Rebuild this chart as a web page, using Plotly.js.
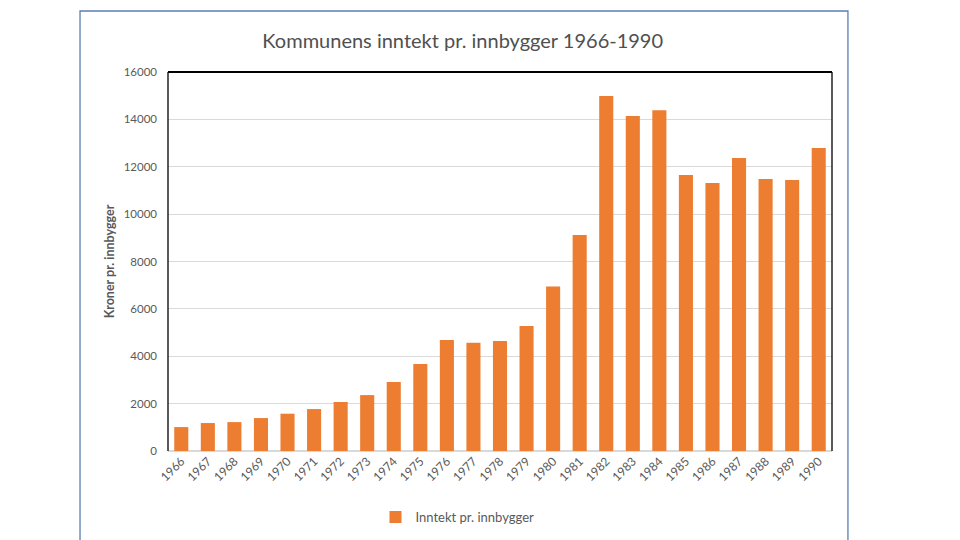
<!DOCTYPE html>
<html>
<head>
<meta charset="utf-8">
<script src="https://cdn.plot.ly/plotly-3.0.1.min.js"></script>
<style>html,body{margin:0;padding:0;background:#fff;}#chart{width:960px;height:540px;}</style>
</head>
<body>
<div id="chart"></div>
<script>
const years = ['1966','1967','1968','1969','1970','1971','1972','1973','1974','1975','1976','1977','1978','1979','1980','1981','1982','1983','1984','1985','1986','1987','1988','1989','1990'];
const inntekt = [1010,1180,1220,1390,1575,1770,2070,2360,2910,3670,4690,4570,4640,5280,6940,9120,14990,14140,14390,11650,11310,12370,11480,11440,12790];
const seriesName = 'Inntekt pr. innbygger';
const chartTitle = 'Kommunens inntekt pr. innbygger 1966-1990';
const yTitle = 'Kroner pr. innbygger';
const yTicks = [0,2000,4000,6000,8000,10000,12000,14000,16000];

const font = 'Lato, "Open Sans", sans-serif';
const grey = '#595959';

const trace = {
  type: 'bar', x: years, y: inntekt, name: seriesName,
  marker: {color: '#ED7D31'}, showlegend: true
};

const layout = {
  width: 960, height: 540,
  margin: {l: 168, r: 128, t: 72, b: 89, autoexpand: false},
  paper_bgcolor: '#fff', plot_bgcolor: '#fff',
  font: {family: font, color: grey, size: 12},
  title: {text: chartTitle, x: 0.482, xanchor: 'center', y: 0.925, yanchor: 'middle',
          font: {family: font, size: 20, color: '#505050'}},
  bargap: 0.47,
  xaxis: {type: 'category', tickangle: -45, tickfont: {size: 12, color: grey},
          showgrid: false, showline: false, ticks: '', zeroline: false, automargin: false},
  yaxis: {range: [0, 16000], tickvals: yTicks, ticktext: yTicks.map(String), automargin: false,
          showgrid: true, gridcolor: '#d9d9d9', gridwidth: 1,
          zeroline: true, zerolinecolor: '#d9d9d9', zerolinewidth: 1.5,
          showline: false, ticks: '', ticklabelstandoff: 10,
          tickfont: {size: 11.5, color: grey},
          title: {text: '<b>' + yTitle + '</b>', standoff: 6, font: {size: 12.5, color: grey}}},
  legend: {orientation: 'h', x: 0.436, xanchor: 'center', y: -0.174, yanchor: 'middle',
           font: {size: 13, color: grey}, itemwidth: 30},
  shapes: [
    {type: 'line', xref: 'paper', yref: 'paper', x0: 0, x1: 1, y0: 1, y1: 1, line: {color: '#000', width: 2}},
    {type: 'line', xref: 'paper', yref: 'paper', x0: 0, x1: 0, y0: 0, y1: 1, line: {color: '#000', width: 1.3}},
    {type: 'line', xref: 'paper', yref: 'paper', x0: 1, x1: 1, y0: 0, y1: 1, line: {color: '#000', width: 1.3}},
    {type: 'rect', xref: 'paper', yref: 'paper', x0: -0.1325, x1: 1.0240, y0: -0.26, y1: 1.161,
     line: {color: '#5b7fae', width: 1.3}, fillcolor: 'rgba(0,0,0,0)'}
  ]
};

Plotly.newPlot('chart', [trace], layout, {displayModeBar: false, staticPlot: true});
</script>
</body>
</html>
